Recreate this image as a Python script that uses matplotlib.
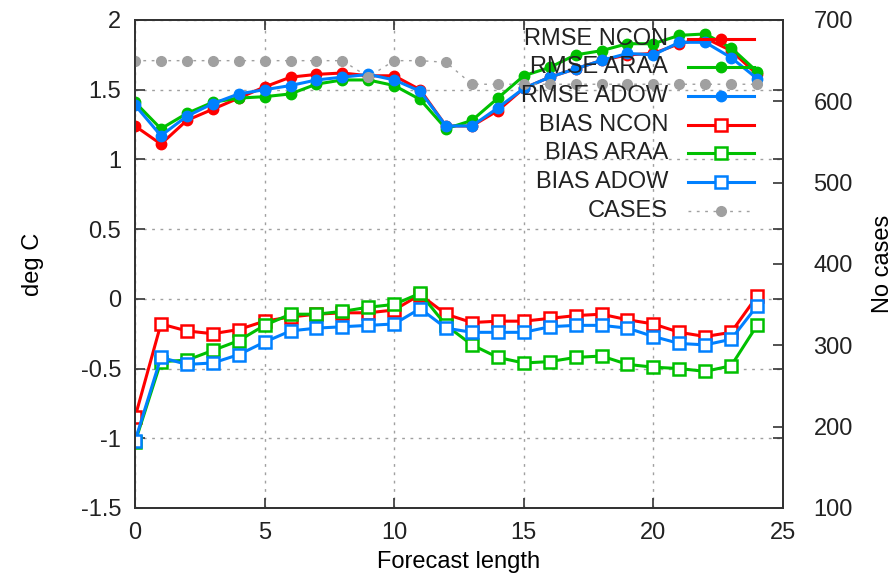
import matplotlib.pyplot as plt
from matplotlib.lines import Line2D

plt.rcParams['font.family'] = ['Liberation Sans', 'DejaVu Sans']
plt.rcParams['font.size'] = 17

hours = list(range(25))

rmse_ncon = [1.24, 1.11, 1.28, 1.36, 1.44, 1.52, 1.59, 1.61, 1.62, 1.60, 1.60,
             1.50, 1.24, 1.24, 1.35, 1.51, 1.59, 1.65, 1.71, 1.75, 1.76, 1.83,
             1.87, 1.78, 1.61]
rmse_araa = [1.41, 1.22, 1.33, 1.41, 1.44, 1.45, 1.47, 1.54, 1.57, 1.57, 1.53,
             1.43, 1.22, 1.28, 1.44, 1.60, 1.66, 1.75, 1.78, 1.83, 1.83, 1.89,
             1.90, 1.80, 1.63]
rmse_adow = [1.39, 1.17, 1.31, 1.40, 1.47, 1.50, 1.53, 1.57, 1.59, 1.61, 1.57,
             1.49, 1.24, 1.24, 1.37, 1.51, 1.59, 1.65, 1.71, 1.76, 1.75, 1.84,
             1.84, 1.73, 1.58]

bias_ncon = [-0.85, -0.18, -0.23, -0.25, -0.22, -0.16, -0.13, -0.11, -0.10, -0.10, -0.08,
             0.03, -0.11, -0.17, -0.16, -0.16, -0.14, -0.12, -0.11, -0.15, -0.18, -0.24,
             -0.27, -0.24, 0.02]
bias_araa = [-1.03, -0.45, -0.44, -0.37, -0.30, -0.19, -0.11, -0.11, -0.09, -0.06, -0.04,
             0.04, -0.19, -0.33, -0.42, -0.46, -0.45, -0.42, -0.41, -0.47, -0.49, -0.50,
             -0.52, -0.48, -0.19]
bias_adow = [-1.02, -0.42, -0.47, -0.46, -0.40, -0.31, -0.23, -0.21, -0.20, -0.19, -0.18,
             -0.07, -0.21, -0.24, -0.24, -0.24, -0.20, -0.19, -0.19, -0.21, -0.27, -0.32,
             -0.33, -0.29, -0.05]

cases = [650, 650, 650, 650, 650, 650, 650, 650, 650, 630, 650,
         650, 648, 621, 621, 621, 621, 621, 621, 621, 621, 621,
         621, 621, 621]

RED, GREEN, BLUE, GREY = '#ff0000', '#00c000', '#0080ff', '#a0a0a0'

fig = plt.figure(figsize=(8.95, 5.8), dpi=100)
ax = fig.add_axes([135 / 895, 1 - 508 / 580, 648 / 895, 488 / 580])
ax2 = ax.twinx()

lw = 2.2
for vals, c in [(rmse_ncon, RED), (rmse_araa, GREEN), (rmse_adow, BLUE)]:
    ax.plot(hours, vals, color=c, lw=lw, marker='o', ms=7.5, mec=c, mfc=c)
for vals, c in [(bias_ncon, RED), (bias_araa, GREEN), (bias_adow, BLUE)]:
    ax.plot(hours, vals, color=c, lw=lw, marker='s', ms=8, mec=c, mfc='white', mew=1.8)
ax2.plot(hours, cases, color=GREY, lw=1, ls=(0, (2, 4)), marker='o', ms=7, mec=GREY, mfc=GREY)

ax.set_xlim(0, 25)
ax.set_ylim(-1.5, 2)
ax2.set_ylim(100, 700)
ax.set_xticks([0, 5, 10, 15, 20, 25])
ax.set_yticks([-1.5, -1, -0.5, 0, 0.5, 1, 1.5, 2])
ax.set_yticklabels(['-1.5', '-1', '-0.5', '0', '0.5', '1', '1.5', '2'])
ax2.set_yticks([100, 200, 300, 400, 500, 600, 700])

ax.grid(True, color='#a0a0a0', ls=(0, (2, 4)), lw=1)
ax.tick_params(direction='in', length=7, width=1.2, top=True, right=True, pad=10,
               colors='#333333', labelcolor='#222222')
ax2.tick_params(direction='in', length=7, width=1.2, pad=22, colors='#333333', labelcolor='#222222')
for a in (ax, ax2):
    for s in a.spines.values():
        s.set_color('#333333')
        s.set_linewidth(1.3)

ax.set_xlabel('Forecast length', labelpad=5)
ax.set_ylabel('deg C', labelpad=26)
ax2.set_ylabel('No cases', labelpad=14)

# gnuplot-style key: right-aligned text with the sample to its right
labels = ['RMSE NCON', 'RMSE ARAA', 'RMSE ADOW', 'BIAS NCON', 'BIAS ARAA', 'BIAS ADOW', 'CASES']
styles = [
    dict(color=RED, lw=lw, marker='o', ms=7.5, mfc=RED, mec=RED),
    dict(color=GREEN, lw=lw, marker='o', ms=7.5, mfc=GREEN, mec=GREEN),
    dict(color=BLUE, lw=lw, marker='o', ms=7.5, mfc=BLUE, mec=BLUE),
    dict(color=RED, lw=lw, marker='s', ms=8, mfc='white', mec=RED, mew=1.8),
    dict(color=GREEN, lw=lw, marker='s', ms=8, mfc='white', mec=GREEN, mew=1.8),
    dict(color=BLUE, lw=lw, marker='s', ms=8, mfc='white', mec=BLUE, mew=1.8),
    dict(color=GREY, lw=1, ls=(0, (2, 4)), marker='o', ms=7, mfc=GREY, mec=GREY),
]
y0, dy = 0.962, 0.0588
for i, (lab, st) in enumerate(zip(labels, styles)):
    y = y0 - i * dy
    ax2.text(0.8225, y, lab, transform=ax2.transAxes, ha='right', va='center', color='#222222')
    ax2.add_line(Line2D([0.853, 0.955], [y, y], transform=ax2.transAxes,
                        **{k: v for k, v in st.items() if k != 'marker'}))
    ax2.add_line(Line2D([0.904], [y], transform=ax2.transAxes, ls='none',
                        **{k: v for k, v in st.items() if k not in ('ls', 'lw')}))

fig.savefig('out.png', dpi=100)
